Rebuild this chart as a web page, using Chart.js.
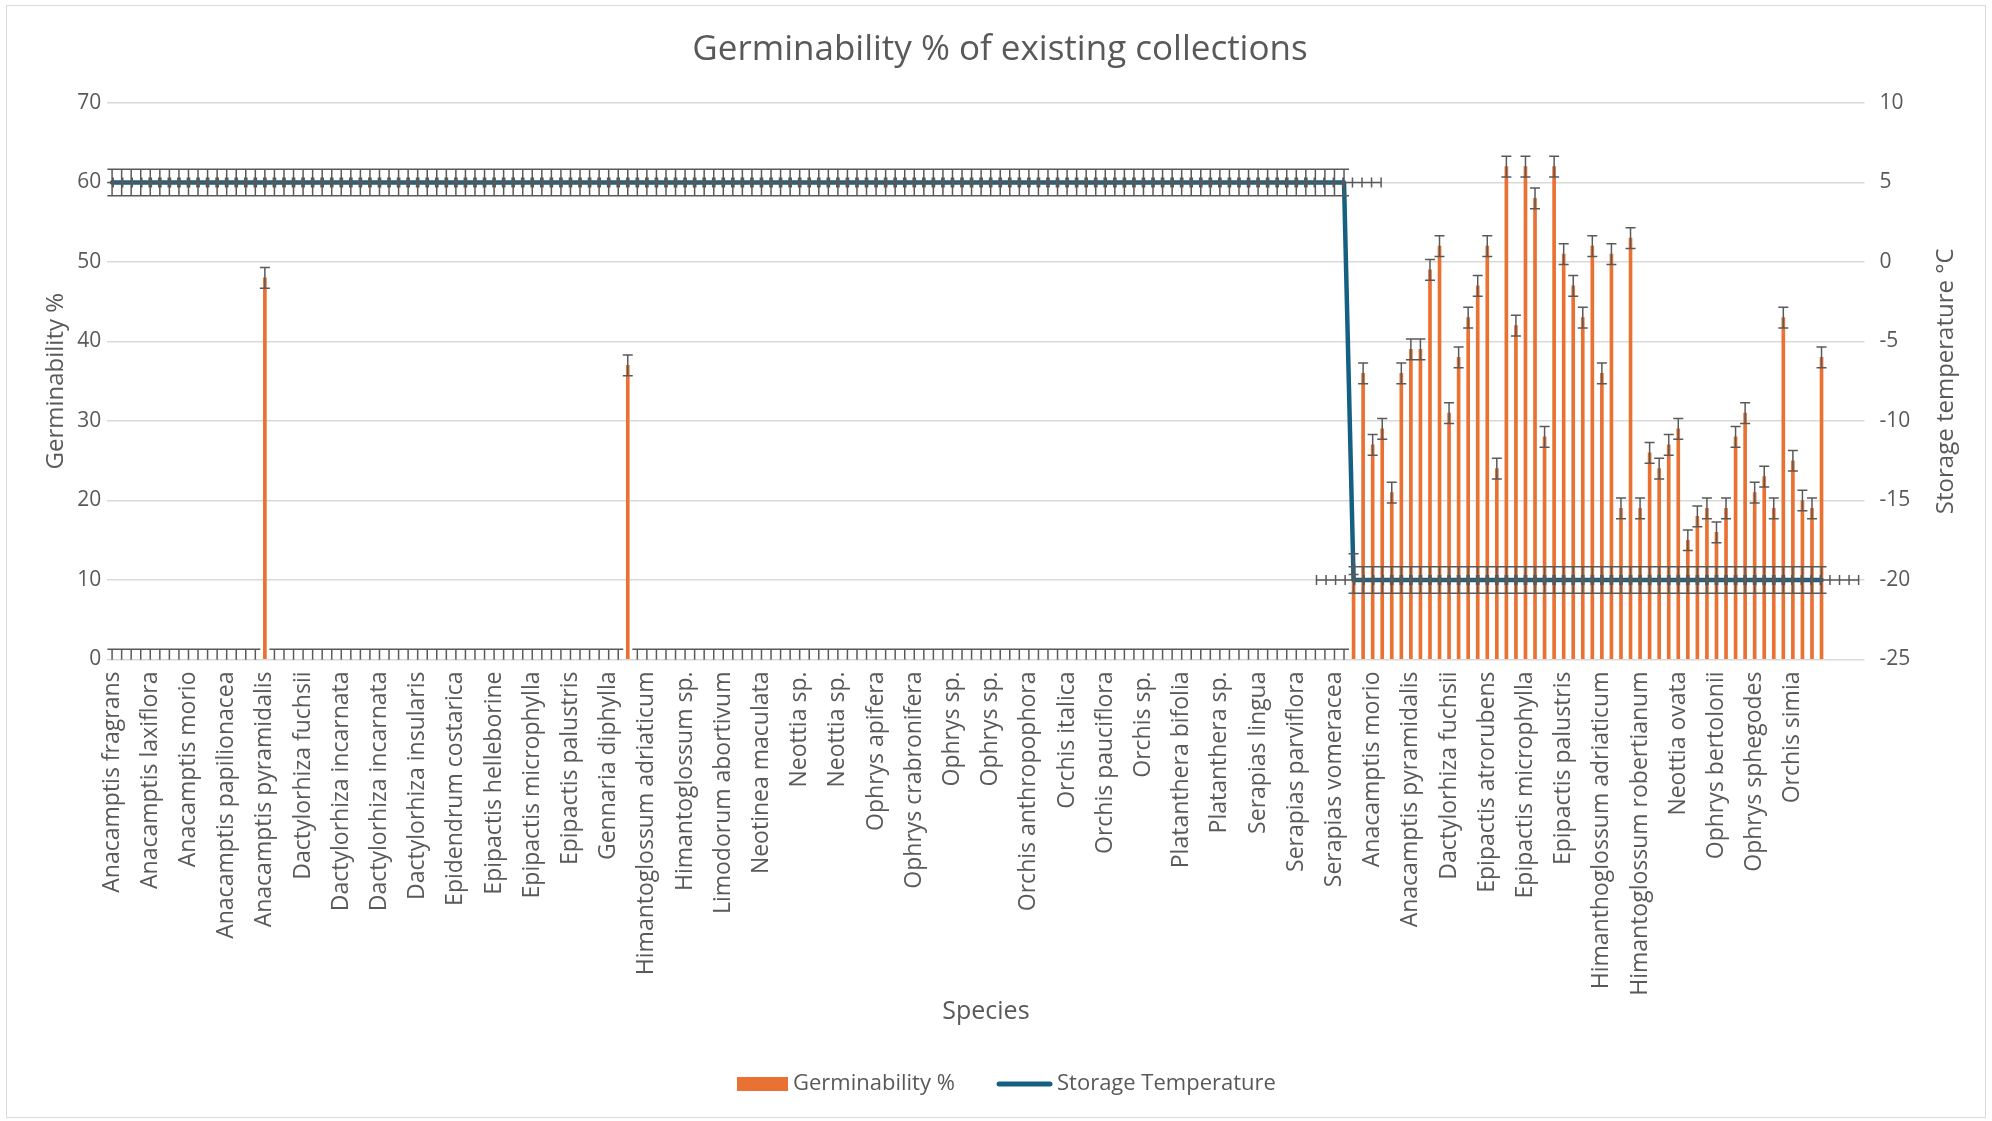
<!DOCTYPE html>
<html>
<head>
<meta charset="utf-8">
<title>Germinability % of existing collections</title>
<script src="https://cdn.jsdelivr.net/npm/chart.js@4.4.1/dist/chart.umd.min.js"></script>
<style>
  html, body { margin: 0; padding: 0; background: #ffffff; }
  #wrap { width: 1992px; height: 1121px; position: relative; }
</style>
</head>
<body>
<div id="wrap"><canvas id="chart"></canvas></div>
<script>
// Species names shown on the category axis (one name every fourth collection)
const speciesTicks = [
  "Anacamptis fragrans", "Anacamptis laxiflora", "Anacamptis morio", "Anacamptis papilionacea",
  "Anacamptis pyramidalis", "Dactylorhiza fuchsii", "Dactylorhiza incarnata", "Dactylorhiza incarnata",
  "Dactylorhiza insularis", "Epidendrum costarica", "Epipactis helleborine", "Epipactis microphylla",
  "Epipactis palustris", "Gennaria diphylla", "Himantoglossum adriaticum", "Himantoglossum sp.",
  "Limodorum abortivum", "Neotinea maculata", "Neottia sp.", "Neottia sp.",
  "Ophrys apifera", "Ophrys crabronifera", "Ophrys sp.", "Ophrys sp.",
  "Orchis anthropophora", "Orchis italica", "Orchis pauciflora", "Orchis sp.",
  "Platanthera bifolia", "Platanthera sp.", "Serapias lingua", "Serapias parviflora",
  "Serapias vomeracea", "Anacamptis morio", "Anacamptis pyramidalis", "Dactylorhiza fuchsii",
  "Epipactis atrorubens", "Epipactis microphylla", "Epipactis palustris", "Himanthoglossum adriaticum",
  "Himantoglossum robertianum", "Neottia ovata", "Ophrys bertolonii", "Ophrys sphegodes",
  "Orchis simia", ""
];
const TICK_EVERY = 4;

// Germinability % per collection (rows of 20)
const germinability = [
  0, 0, 0, 0, 0, 0, 0, 0, 0, 0, 0, 0, 0, 0, 0, 0, 48, 0, 0, 0,
  0, 0, 0, 0, 0, 0, 0, 0, 0, 0, 0, 0, 0, 0, 0, 0, 0, 0, 0, 0,
  0, 0, 0, 0, 0, 0, 0, 0, 0, 0, 0, 0, 0, 0, 37, 0, 0, 0, 0, 0,
  0, 0, 0, 0, 0, 0, 0, 0, 0, 0, 0, 0, 0, 0, 0, 0, 0, 0, 0, 0,
  0, 0, 0, 0, 0, 0, 0, 0, 0, 0, 0, 0, 0, 0, 0, 0, 0, 0, 0, 0,
  0, 0, 0, 0, 0, 0, 0, 0, 0, 0, 0, 0, 0, 0, 0, 0, 0, 0, 0, 0,
  0, 0, 0, 0, 0, 0, 0, 0, 0, 0, 12, 36, 27, 29, 21, 36, 39, 39, 49, 52,
  31, 38, 43, 47, 52, 24, 62, 42, 62, 58, 28, 62, 51, 47, 43, 52, 36, 51, 19, 53,
  19, 26, 24, 27, 29, 15, 18, 19, 16, 19, 28, 31, 21, 23, 19, 43, 25, 20, 19, 38
];

// Storage temperature (°C) per collection (rows of 20)
const storageTemperature = [
  5, 5, 5, 5, 5, 5, 5, 5, 5, 5, 5, 5, 5, 5, 5, 5, 5, 5, 5, 5,
  5, 5, 5, 5, 5, 5, 5, 5, 5, 5, 5, 5, 5, 5, 5, 5, 5, 5, 5, 5,
  5, 5, 5, 5, 5, 5, 5, 5, 5, 5, 5, 5, 5, 5, 5, 5, 5, 5, 5, 5,
  5, 5, 5, 5, 5, 5, 5, 5, 5, 5, 5, 5, 5, 5, 5, 5, 5, 5, 5, 5,
  5, 5, 5, 5, 5, 5, 5, 5, 5, 5, 5, 5, 5, 5, 5, 5, 5, 5, 5, 5,
  5, 5, 5, 5, 5, 5, 5, 5, 5, 5, 5, 5, 5, 5, 5, 5, 5, 5, 5, 5,
  5, 5, 5, 5, 5, 5, 5, 5, 5, 5, -20, -20, -20, -20, -20, -20, -20, -20, -20, -20,
  -20, -20, -20, -20, -20, -20, -20, -20, -20, -20, -20, -20, -20, -20, -20, -20, -20, -20, -20, -20,
  -20, -20, -20, -20, -20, -20, -20, -20, -20, -20, -20, -20, -20, -20, -20, -20, -20, -20, -20, -20
];

// Axis ranges
const germinabilityAxis = { min: 0, max: 70, step: 10 };
const temperatureAxis = { min: -25, max: 10, step: 5 };

// Category slots: every collection, with a species name on every fourth slot
const categories = [];
speciesTicks.forEach(name => {
  categories.push(name);
  for (let k = 1; k < TICK_EVERY; k++) categories.push('');
});

// Standard error of a series, as used for the error bars
function standardError(values) {
  const v = values.filter(x => x !== null && x !== undefined);
  const n = v.length;
  const mean = v.reduce((a, b) => a + b, 0) / n;
  const ss = v.reduce((a, b) => a + (b - mean) * (b - mean), 0);
  return Math.sqrt(ss / (n * (n - 1)));
}
const seGerminability = standardError(germinability);
const seTemperature = standardError(storageTemperature);
const seCollection = standardError(storageTemperature.map((_, i) => i + 1));

const FONT = '"Open Sans", "Liberation Sans", sans-serif';
const TEXT = '#595959';
const ORANGE = '#E97132';
const TEAL = '#156082';
const ERR = '#595959';
const GRID = '#D9D9D9';

// Error bars: vertical for both series, horizontal for the temperature line
const errorBars = {
  id: 'errorBars',
  afterDatasetsDraw(chart) {
    const { ctx, chartArea: a, scales } = chart;
    const x = scales.x, y = scales.y, y1 = scales.y1;
    const cap = 5;
    ctx.save();
    ctx.beginPath();
    ctx.rect(a.left, a.top, a.right - a.left, a.bottom - a.top);
    ctx.clip();
    ctx.strokeStyle = ERR;
    ctx.lineWidth = 1.5;
    ctx.beginPath();
    germinability.forEach((v, i) => {
      if (v === null || v === undefined) return;
      const px = x.getPixelForValue(i);
      const hi = y.getPixelForValue(v + seGerminability);
      const lo = y.getPixelForValue(v - seGerminability);
      ctx.moveTo(px, hi); ctx.lineTo(px, lo);
      ctx.moveTo(px - cap, hi); ctx.lineTo(px + cap, hi);
      ctx.moveTo(px - cap, lo); ctx.lineTo(px + cap, lo);
    });
    storageTemperature.forEach((t, i) => {
      if (t === null || t === undefined) return;
      const px = x.getPixelForValue(i);
      const py = y1.getPixelForValue(t);
      const hi = y1.getPixelForValue(t + seTemperature);
      const lo = y1.getPixelForValue(t - seTemperature);
      ctx.moveTo(px, hi); ctx.lineTo(px, lo);
      ctx.moveTo(px - cap, hi); ctx.lineTo(px + cap, hi);
      ctx.moveTo(px - cap, lo); ctx.lineTo(px + cap, lo);
      const left = x.getPixelForValue(i - seCollection);
      const right = x.getPixelForValue(i + seCollection);
      ctx.moveTo(left, py); ctx.lineTo(right, py);
      ctx.moveTo(left, py - cap); ctx.lineTo(left, py + cap);
      ctx.moveTo(right, py - cap); ctx.lineTo(right, py + cap);
    });
    ctx.stroke();
    ctx.restore();
  }
};

// Frame, titles and legend
const chartChrome = {
  id: 'chartChrome',
  beforeDraw(chart) {
    const { ctx, width, height } = chart;
    ctx.save();
    ctx.fillStyle = '#ffffff';
    ctx.fillRect(0, 0, width, height);
    ctx.strokeStyle = GRID;
    ctx.lineWidth = 1;
    ctx.strokeRect(6.5, 5.5, width - 13, height - 9);
    ctx.restore();
  },
  afterDraw(chart) {
    const { ctx, chartArea: a } = chart;
    const midX = (a.left + a.right) / 2;
    const midY = (a.top + a.bottom) / 2;
    ctx.save();
    ctx.fillStyle = TEXT;
    ctx.textBaseline = 'middle';
    ctx.textAlign = 'center';
    ctx.font = '35px ' + FONT;
    ctx.fillText('Germinability % of existing collections', 1000, 50);
    ctx.font = '25px ' + FONT;
    ctx.fillText('Species', midX, 1012);
    const vText = (text, cx, cy) => {
      ctx.save();
      ctx.translate(cx, cy);
      ctx.rotate(-Math.PI / 2);
      ctx.fillText(text, 0, 0);
      ctx.restore();
    };
    ctx.font = '24px ' + FONT;
    vText('Germinability %', 56, midY);
    vText('Storage temperature °C', 1946, midY);

    // legend
    const ly = 1084;
    ctx.fillStyle = ORANGE;
    ctx.fillRect(737, ly - 7, 51, 14);
    ctx.fillStyle = TEXT;
    ctx.textAlign = 'left';
    ctx.font = '22px ' + FONT;
    ctx.fillText('Germinability %', 793, ly);
    ctx.strokeStyle = TEAL;
    ctx.lineWidth = 5;
    ctx.lineCap = 'round';
    ctx.beginPath();
    ctx.moveTo(999, ly); ctx.lineTo(1050, ly);
    ctx.stroke();
    ctx.fillText('Storage Temperature', 1057, ly);
    ctx.restore();
  }
};

const tickFont = { family: FONT, size: 23 };
const valueFont = { family: FONT, size: 21 };

new Chart(document.getElementById('chart'), {
  type: 'bar',
  data: {
    labels: categories,
    datasets: [
      {
        type: 'line',
        label: 'Storage Temperature',
        data: storageTemperature,
        yAxisID: 'y1',
        borderColor: TEAL,
        backgroundColor: TEAL,
        borderWidth: 4.5,
        pointRadius: 0,
        tension: 0,
        borderJoinStyle: 'round',
        borderCapStyle: 'round',
        order: 0
      },
      {
        type: 'bar',
        label: 'Germinability %',
        data: germinability,
        yAxisID: 'y',
        backgroundColor: ORANGE,
        barThickness: 3,
        order: 1
      }
    ]
  },
  options: {
    responsive: true,
    maintainAspectRatio: false,
    animation: false,
    events: [],
    layout: { padding: { top: 103, left: 0, right: 0, bottom: 0 } },
    plugins: {
      legend: { display: false },
      tooltip: { enabled: false },
      title: { display: false }
    },
    scales: {
      x: {
        type: 'category',
        offset: true,
        grid: { display: false, drawTicks: false },
        border: { display: false },
        ticks: {
          autoSkip: false,
          minRotation: 90,
          maxRotation: 90,
          padding: 12,
          color: TEXT,
          font: tickFont
        },
        afterFit(s) { s.height = 1121 - 659.5; }
      },
      y: {
        position: 'left',
        min: germinabilityAxis.min,
        max: germinabilityAxis.max,
        ticks: { stepSize: germinabilityAxis.step, padding: 6, color: TEXT, font: valueFont },
        grid: { color: GRID, lineWidth: 1.5, drawTicks: false },
        border: { display: false },
        afterFit(s) { s.width = 107.3; }
      },
      y1: {
        position: 'right',
        min: temperatureAxis.min,
        max: temperatureAxis.max,
        ticks: { stepSize: temperatureAxis.step, padding: 15, color: TEXT, font: valueFont },
        grid: { display: false, drawTicks: false },
        border: { display: false },
        afterFit(s) { s.width = 1992 - 1864.5; }
      }
    }
  },
  plugins: [chartChrome, errorBars]
});
</script>
</body>
</html>
